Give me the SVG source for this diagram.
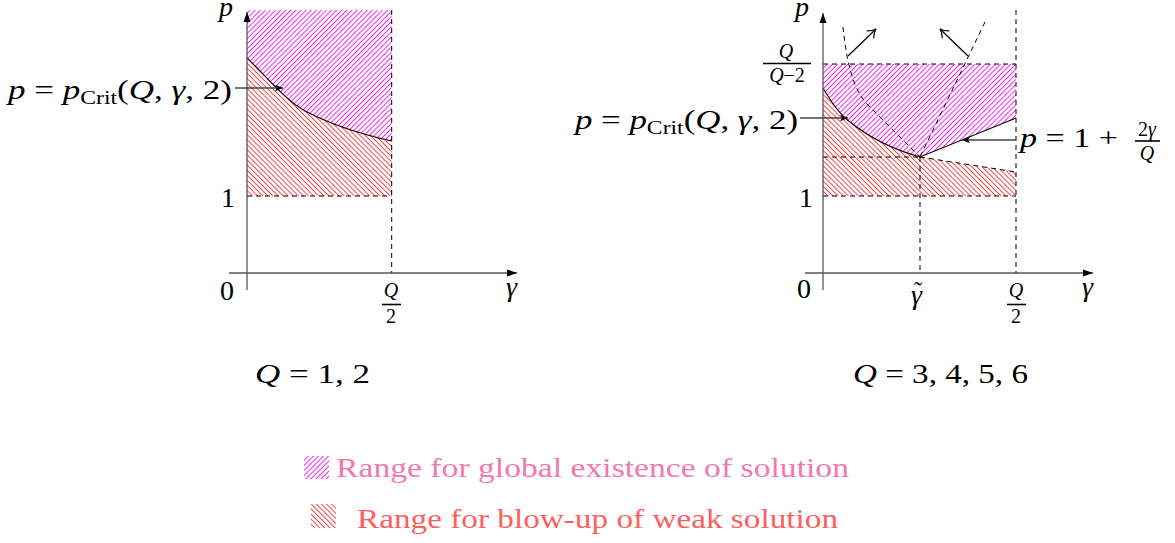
<svg xmlns="http://www.w3.org/2000/svg" width="1175" height="543" viewBox="0 0 1175 543">
<style>
text{font-family:"Liberation Serif","DejaVu Serif",serif;fill:#000}
.m{font-size:28px}
.s{font-size:20px}
.i{font-style:italic}
.ax{stroke:#555;stroke-width:1.3;fill:none}
.d{stroke:#000;stroke-width:1;stroke-dasharray:5,4;fill:none}
.c{stroke:#000;stroke-width:1.1;fill:none}
.bar{stroke:#000;stroke-width:1.6}
.arr{stroke:#444;stroke-width:1.3;fill:none}
.up{stroke:#000;stroke-width:1.2;fill:none}
</style>
<defs>
<pattern id="ne" width="3.6" height="10" patternUnits="userSpaceOnUse" patternTransform="rotate(45)">
<line x1="0.5" y1="0" x2="0.5" y2="10" stroke="#ff00ff" stroke-width="0.9"/>
</pattern>
<pattern id="nw" width="3.6" height="10" patternUnits="userSpaceOnUse" patternTransform="rotate(-45)">
<line x1="0.5" y1="0" x2="0.5" y2="10" stroke="#ff2a2a" stroke-width="0.9"/>
</pattern>
<marker id="tri" markerWidth="11" markerHeight="8" refX="10" refY="4" orient="auto" markerUnits="userSpaceOnUse">
<path d="M0,0.5 L10,4 L0,7.5 Z" fill="#000"/>
</marker>
<marker id="sh" markerWidth="9" markerHeight="8" refX="8" refY="4" orient="auto" markerUnits="userSpaceOnUse">
<path d="M0,0.8 L8,4 L0,7.2 L2,4 Z" fill="#000"/>
</marker>
<marker id="open" markerWidth="10" markerHeight="12" refX="9" refY="6" orient="auto" markerUnits="userSpaceOnUse">
<path d="M1,1 Q5,5 9,6 Q5,7 1,11" fill="none" stroke="#000" stroke-width="1.2"/>
</marker>
</defs>

<g id="left-plot">
<g id="left-regions">
<path d="M247,10 L391.7,10 L391.7,141 C360,134 330,124 305,111 C285,100 265,75 247,58 Z" fill="url(#ne)"/>
<path d="M247,58 C265,75 285,100 305,111 C330,124 360,134 391.7,141 L391.7,196 L247,196 Z" fill="url(#nw)"/>
</g>
<g id="left-lines">
<path class="c" d="M247,58 C265,75 285,100 305,111 C330,124 360,134 391.7,141"/>
<line class="d" x1="391.7" y1="10" x2="391.7" y2="273"/>
<line class="d" x1="247" y1="196" x2="391.7" y2="196"/>
</g>
<g id="left-axes">
<line class="ax" x1="247" y1="290" x2="247" y2="12" marker-end="url(#tri)"/>
<line class="ax" x1="229" y1="273" x2="517" y2="273" marker-end="url(#tri)"/>
</g>
<g id="left-labels">
<text class="m i" x="219" y="16">p</text>
<text class="m" x="221" y="207">1</text>
<text class="m" x="220" y="300">0</text>
<text class="m i" x="506" y="296">γ</text>
<text class="s i" x="391" y="297" text-anchor="middle">Q</text>
<line class="bar" x1="382" y1="304.5" x2="401" y2="304.5"/>
<text class="s" x="391" y="323" text-anchor="middle">2</text>
<text class="m" x="8" y="99" textLength="224" lengthAdjust="spacingAndGlyphs"><tspan class="i">p</tspan> = <tspan class="i">p</tspan><tspan font-size="19" dy="5">Crit</tspan><tspan dy="-5">(</tspan><tspan class="i">Q</tspan>, <tspan class="i">γ</tspan>, 2)</text>
<text class="m" x="255" y="383" textLength="115" lengthAdjust="spacingAndGlyphs"><tspan class="i">Q</tspan> = 1, 2</text>
</g>
</g>

<g id="right-plot">
<g id="right-regions">
<path d="M823,64 H1016 V118 L920,157 C895,150 870,138 850,122 C840,115 830,100 823,88 Z" fill="url(#ne)"/>
<path d="M823,88 C830,100 840,115 850,122 C870,138 895,150 920,157 L1016,172 V196 H823 Z" fill="url(#nw)"/>
</g>
<g id="right-lines">
<path class="c" d="M823,88 C830,100 840,115 850,122 C870,138 895,150 920,157 L1016,118"/>
<line class="d" x1="823" y1="64" x2="1016" y2="64"/>
<line class="d" x1="823" y1="157" x2="920" y2="157"/>
<line class="d" x1="823" y1="196" x2="1016" y2="196"/>
<line class="d" x1="920" y1="157" x2="920" y2="273"/>
<line class="d" x1="1016" y1="10" x2="1016" y2="273"/>
<line class="d" x1="920" y1="157" x2="1016" y2="172"/>
<path class="d" d="M843,27 C846,55 851,88 868,105 L920,157"/>
<line class="d" x1="985" y1="22" x2="920" y2="157"/>
</g>
<g id="right-axes">
<line class="ax" x1="823" y1="290" x2="823" y2="13" marker-end="url(#tri)"/>
<line class="ax" x1="805" y1="273" x2="1093" y2="273" marker-end="url(#tri)"/>
</g>
<g id="right-labels">
<text class="m i" x="795" y="16">p</text>
<text class="m" x="799" y="207">1</text>
<text class="m" x="797" y="298">0</text>
<text class="m i" x="1082" y="296">γ</text>
<text class="m i" x="911" y="304">γ</text>
<text x="918" y="298" font-size="24" text-anchor="middle">˜</text>
<text class="s i" x="1016" y="297" text-anchor="middle">Q</text>
<line class="bar" x1="1007" y1="304.5" x2="1026" y2="304.5"/>
<text class="s" x="1016" y="323" text-anchor="middle">2</text>
<text class="s i" x="786" y="58" text-anchor="middle">Q</text>
<line class="bar" x1="763" y1="63.5" x2="811" y2="63.5"/>
<text class="s" x="787" y="82" text-anchor="middle"><tspan class="i">Q</tspan>−2</text>
<text class="m" x="575" y="129" textLength="223" lengthAdjust="spacingAndGlyphs"><tspan class="i">p</tspan> = <tspan class="i">p</tspan><tspan font-size="19" dy="5">Crit</tspan><tspan dy="-5">(</tspan><tspan class="i">Q</tspan>, <tspan class="i">γ</tspan>, 2)</text>
<text class="m" x="1020" y="147" textLength="98" lengthAdjust="spacingAndGlyphs"><tspan class="i">p</tspan> = 1 +</text>
<text class="s" x="1147" y="136" text-anchor="middle">2<tspan class="i">γ</tspan></text>
<line class="bar" x1="1135" y1="141" x2="1160" y2="141"/>
<text class="s i" x="1147" y="160" text-anchor="middle">Q</text>
<text class="m" x="853" y="383" textLength="175" lengthAdjust="spacingAndGlyphs"><tspan class="i">Q</tspan> = 3, 4, 5, 6</text>
</g>
</g>

<g id="connectors">
<line class="arr" x1="235" y1="88" x2="283" y2="88" marker-end="url(#sh)"/>
<line class="arr" x1="800" y1="118" x2="848" y2="118" marker-end="url(#sh)"/>
<line class="arr" x1="1016" y1="140" x2="962" y2="140" marker-end="url(#sh)"/>
<line class="up" x1="848" y1="56" x2="876" y2="29" marker-end="url(#open)"/>
<line class="up" x1="968" y1="56" x2="940" y2="29" marker-end="url(#open)"/>
</g>

<g id="legend">
<g id="legend-global">
<rect x="304" y="456" width="25" height="23" fill="url(#ne)"/>
<text x="336" y="477" font-size="28" style="fill:#f378b1" textLength="513" lengthAdjust="spacingAndGlyphs">Range for global existence of solution</text>
</g>
<g id="legend-blowup">
<rect x="311" y="504" width="25" height="24" fill="url(#nw)"/>
<text x="357" y="528" font-size="28" style="fill:#ff5e5e" textLength="481" lengthAdjust="spacingAndGlyphs">Range for blow-up of weak solution</text>
</g>
</g>
</svg>
